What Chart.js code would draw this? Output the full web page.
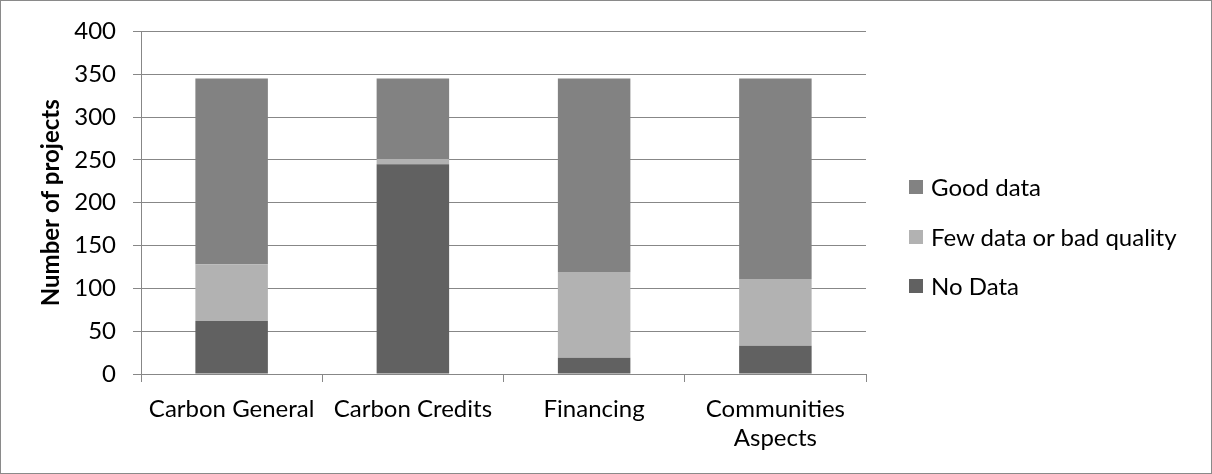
<!DOCTYPE html>
<html>
<head>
<meta charset="utf-8">
<script src="https://cdn.jsdelivr.net/npm/chart.js@4"></script>
<style>
  body { margin: 0; background: #fff; }
  #wrap { position: relative; width: 1212px; height: 474px; }
  #legend { position: absolute; left: 909px; top: 172px; font-family: Lato, sans-serif; font-size: 24px; line-height: 29px; color: #000; }
  #legend div { height: 49.5px; display: flex; align-items: flex-start; }
  #legend span.box { display: inline-block; width: 14px; height: 14px; margin-top: 8px; margin-right: 8px; }
</style>
</head>
<body>
<div id="wrap">
  <canvas id="chart" width="1212" height="474"></canvas>
  <div id="legend"></div>
</div>
<script>
const categories = ['Carbon General', 'Carbon Credits', 'Financing', ['Communities', 'Aspects']];
const noData = [62, 245, 19, 33];
const fewData = [66, 6, 100, 78];
const goodData = [217, 94, 226, 234];
const yTicks = [0, 50, 100, 150, 200, 250, 300, 350, 400];

const colors = { good: '#828282', few: '#b2b2b2', none: '#616161' };
const gridColor = '#878787';

// frame around the whole chart
const framePlugin = {
  id: 'frame',
  beforeDraw(chart) {
    const ctx = chart.ctx;
    ctx.save();
    ctx.fillStyle = '#fff';
    ctx.fillRect(0, 0, chart.width, chart.height);
    ctx.strokeStyle = '#8a8a8a';
    ctx.lineWidth = 1;
    ctx.strokeRect(0.5, 0.5, chart.width - 1, chart.height - 1);
    ctx.restore();
  }
};

const datasets = [
  { label: 'No Data', data: noData, backgroundColor: colors.none },
  { label: 'Few data or bad quality', data: fewData, backgroundColor: colors.few },
  { label: 'Good data', data: goodData, backgroundColor: colors.good },
];

const chart = new Chart(document.getElementById('chart').getContext('2d'), {
  type: 'bar',
  data: {
    labels: categories,
    datasets: datasets.map(d => ({ ...d, categoryPercentage: 1, barPercentage: 0.4 })),
  },
  options: {
    responsive: false,
    animation: false,
    layout: { padding: { left: 0, right: 346, top: 31, bottom: 0 } },
    plugins: { legend: { display: false }, tooltip: { enabled: false } },
    scales: {
      x: {
        stacked: true,
        grid: { drawOnChartArea: false, drawTicks: true, tickLength: 8, color: gridColor, offset: true },
        border: { color: gridColor },
        ticks: { color: '#000', padding: 13, font: { family: 'Lato', size: 24, lineHeight: 1.2 }, maxRotation: 0, autoSkip: false },
        afterFit(scale) { scale.height = 100; },
      },
      y: {
        stacked: true,
        min: 0,
        max: 400,
        afterBuildTicks(scale) { scale.ticks = yTicks.map(v => ({ value: v })); },
        grid: { color: gridColor, tickLength: 8 },
        border: { color: gridColor },
        ticks: { color: '#000', padding: 17, font: { family: 'Lato', size: 24 } },
        title: { display: true, text: 'Number of projects', color: '#000', font: { family: 'Lato', size: 24, weight: 'bold', lineHeight: 1.2 }, padding: { top: 37, bottom: 0 } },
        afterFit(scale) { scale.width = 141; },
      },
    },
  },
  plugins: [framePlugin],
});

// legend, same order as the reference (top segment first)
const legend = document.getElementById('legend');
[...datasets].reverse().forEach(d => {
  const row = document.createElement('div');
  const box = document.createElement('span');
  box.className = 'box';
  box.style.background = d.backgroundColor;
  row.appendChild(box);
  row.appendChild(document.createTextNode(d.label));
  legend.appendChild(row);
});
</script>
</body>
</html>
